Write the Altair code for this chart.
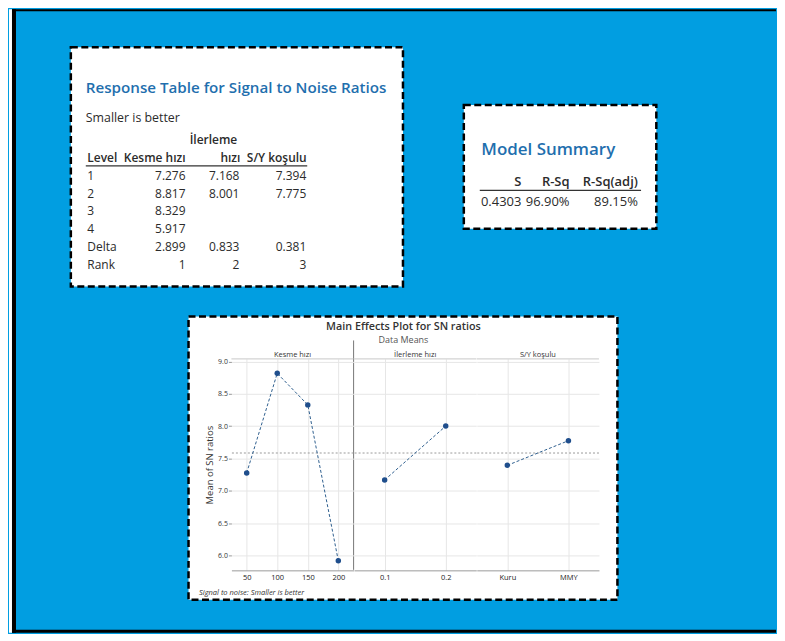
import altair as alt
import pandas as pd

FONT = "Open Sans"
BLUE_BG = "#019ee1"
TITLE_BLUE = "#1f6fae"
TXT = "#2b2b2b"
GRID = "#e6e6e6"
LINE_C = "#2f5f8f"
PT_C = "#1f4e8c"

# ---------------- data ----------------
kesme_levels = ["50", "100", "150", "200"]
kesme_sn = [7.276, 8.817, 8.329, 5.917]
ilerleme_levels = ["0.1", "0.2"]
ilerleme_sn = [7.168, 8.001]
sy_levels = ["Kuru", "MMY"]
sy_sn = [7.394, 7.775]
factor_names = ["Kesme hızı", "İlerleme hızı", "S/Y koşulu"]
y_ticks = [6.0, 6.5, 7.0, 7.5, 8.0, 8.5, 9.0]

table_rows = ["1", "2", "3", "4", "Delta", "Rank"]
table_kesme = ["7.276", "8.817", "8.329", "5.917", "2.899", "1"]
table_ilerleme = ["7.168", "8.001", "", "", "0.833", "2"]
table_sy = ["7.394", "7.775", "", "", "0.381", "3"]
table_headers = ["Level", "Kesme hızı", "hızı", "S/Y koşulu"]

summary_headers = ["S", "R-Sq", "R-Sq(adj)"]
summary_values = ["0.4303", "96.90%", "89.15%"]

# ---------------- layout helpers ----------------
OX, OY = 70.0, 358.5          # page position of the anchor view's origin
PANEL_W, PANEL_H = 122.5, 212


def px(x):
    return x - OX


def py(y):
    return y - OY


one = pd.DataFrame({"k": [0]})


def rect(x, x2, y, y2, **kw):
    return alt.Chart(one).mark_rect(**kw).encode(
        x=alt.value(px(x)), x2=alt.value(px(x2)),
        y=alt.value(py(y)), y2=alt.value(py(y2)))


def label(text, x, y, **kw):
    return alt.Chart(pd.DataFrame({"t": [text]})).mark_text(font=FONT, **kw).encode(
        x=alt.value(px(x)), y=alt.value(py(y)), text="t:N")


def hline(x, x2, y, **kw):
    return alt.Chart(one).mark_rule(**kw).encode(
        x=alt.value(px(x)), x2=alt.value(px(x2)), y=alt.value(py(y)))


row_scale = alt.Scale(type="point", range=[py(175), py(264)], padding=0)


def table_col(values, x, align, **kw):
    df = pd.DataFrame({"row": table_rows, "val": values})
    df = df[df["val"] != ""]
    return alt.Chart(df).mark_text(font=FONT, fontSize=12, align=align, color=TXT, **kw).encode(
        x=alt.value(px(x)),
        y=alt.Y("row:N", sort=table_rows, scale=row_scale, axis=None),
        text="val:N")


dash = dict(stroke="black", strokeWidth=2.5, strokeDash=[7, 3.5])

layers = [
    rect(8, 11, 8, 633, fill="white"),
    rect(11, 15, 8, 633, fill="black"),
    rect(11, 777, 8, 10, fill="black"),
    rect(11, 777, 630, 633, fill="black"),
    # response table box
    rect(70, 403, 46, 286, fill="white", **dash),
    label("Response Table for Signal to Noise Ratios", 85, 87, align="left",
          fontSize=15.2, fontWeight=600, color=TITLE_BLUE),
    label("Smaller is better", 85, 117, align="left", fontSize=12.4, color=TXT),
    label("İlerleme", 213, 139, align="center", fontSize=12, fontWeight=600, color=TXT),
    label(table_headers[0], 86.5, 157, align="left", fontSize=12, fontWeight=600, color=TXT),
    label(table_headers[1], 185, 157, align="right", fontSize=12, fontWeight=600, color=TXT),
    label(table_headers[2], 240, 157, align="right", fontSize=12, fontWeight=600, color=TXT),
    label(table_headers[3], 306.5, 157, align="right", fontSize=12, fontWeight=600, color=TXT),
    hline(85, 307, 165, color="#333", strokeWidth=1.2),
    table_col(table_rows, 86.5, "left"),
    table_col(table_kesme, 185, "right"),
    table_col(table_ilerleme, 239, "right"),
    table_col(table_sy, 306, "right"),
    # model summary box
    rect(464, 657, 104, 228, fill="white", **dash),
    label("Model Summary", 481.5, 149.5, align="left", fontSize=17, fontWeight=600, color=TITLE_BLUE),
    hline(480, 641.7, 189.5, color="#333", strokeWidth=1.2),
]
summary_right = [521.7, 570, 638.5]
for i, xr in enumerate(summary_right):
    layers.append(label(summary_headers[i], xr, 181.5, align="right", fontSize=13,
                        fontWeight=600, color=TXT))
    layers.append(label(summary_values[i], xr, 201.7, align="right", fontSize=13, color=TXT))

# main effects box
layers += [
    rect(188, 618, 316, 600, fill="white", **dash),
    label("Main Effects Plot for SN ratios", 403.5, 327, align="center", fontSize=10.8,
          fontWeight=600, color="#333"),
    label("Data Means", 403.5, 339.7, align="center", fontSize=9, color="#555"),
    label("Signal to noise: Smaller is better", 198.5, 593, align="left", fontSize=7.5,
          fontStyle="italic", color="#333"),
    alt.Chart(one).mark_rule(color="#777", strokeWidth=1).encode(
        x=alt.value(px(353.5)), y=alt.value(py(340)), y2=alt.value(py(570))),
]

anchor = alt.layer(*layers).properties(width=px(231), height=PANEL_H)

yscale = alt.Scale(domain=[5.77, 9.04], nice=False, zero=False)


def panel(levels, sn, name, first):
    df = pd.DataFrame({"level": levels, "SN": sn})
    xenc = alt.X("level:O", sort=levels, scale=alt.Scale(type="point", padding=0.5),
                 axis=alt.Axis(title=None, labelAngle=0, grid=True, gridColor=GRID,
                               domainColor="#9a9a9a", ticks=False, labelFontSize=7.5,
                               labelPadding=3, labelColor="#222"))
    if first:
        yaxis = alt.Axis(values=y_ticks, format=".1f", title="Mean of SN ratios", grid=True,
                         gridColor=GRID, domain=False, tickSize=3, tickColor="#999",
                         labelFontSize=7, labelPadding=1, labelColor="#333",
                         titleFontSize=9.5, titleFontWeight="normal", titleColor="#333",
                         titlePadding=3)
    else:
        yaxis = alt.Axis(values=y_ticks, grid=True, gridColor=GRID, labels=False,
                         ticks=False, domain=False, title=None)
    base = alt.Chart(df)
    header_line = alt.Chart(one).mark_rule(color="#c8c8c8").encode(y=alt.value(0))
    header = alt.Chart(pd.DataFrame({"t": [name]})).mark_text(
        font=FONT, fontSize=7.5, color="#333").encode(
        x=alt.value(PANEL_W / 2), y=alt.value(py(354.3)), text="t:N")
    mean_rule = base.mark_rule(color="#9a9a9a", strokeDash=[2, 2], strokeWidth=1).encode(
        y=alt.Y("mean(SN):Q", scale=yscale, axis=yaxis))
    line = base.mark_line(color=LINE_C, strokeDash=[3, 2], strokeWidth=1).encode(
        x=xenc, y=alt.Y("SN:Q", scale=yscale, axis=yaxis))
    pts = base.mark_circle(size=30, color=PT_C, opacity=1).encode(
        x=xenc, y=alt.Y("SN:Q", scale=yscale, axis=yaxis))
    return alt.layer(header_line, header, mean_rule, line, pts).properties(
        width=PANEL_W, height=PANEL_H)


p1 = panel(kesme_levels, kesme_sn, factor_names[0], True)
p2 = panel(ilerleme_levels, ilerleme_sn, factor_names[1], False)
p3 = panel(sy_levels, sy_sn, factor_names[2], False)

chart = alt.hconcat(anchor, p1, p2, p3, spacing=0, bounds="flush").properties(
    padding={"left": 0, "top": 0, "right": 0, "bottom": 0},
    background=BLUE_BG,
).configure_view(stroke="transparent").configure_axis(
    labelFont=FONT, titleFont=FONT
).configure_text(font=FONT)

chart.save("out.html", embed_options={"renderer": "svg", "actions": False})
